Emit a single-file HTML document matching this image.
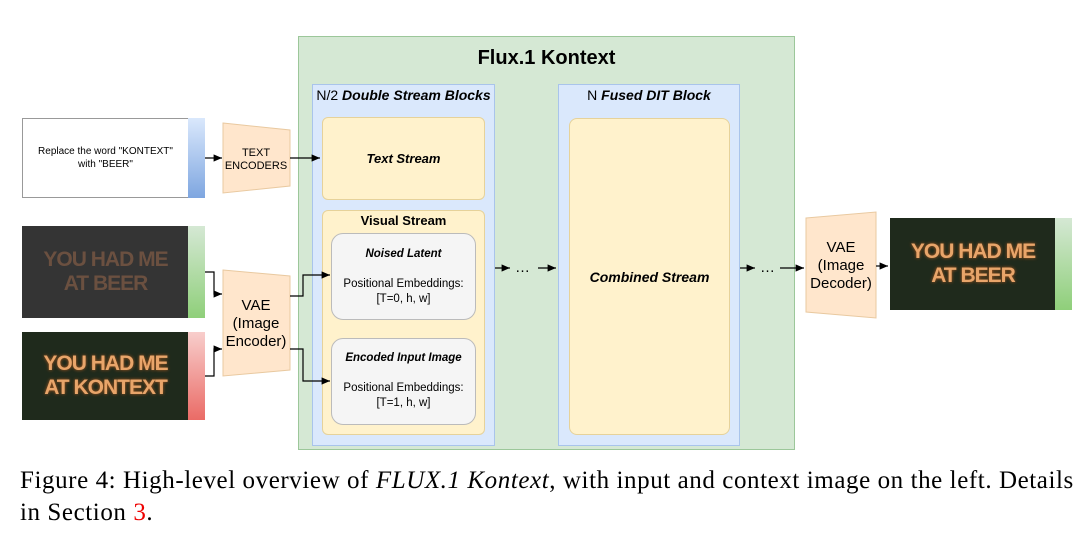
<!DOCTYPE html>
<html><head><meta charset="utf-8"><style>
body{margin:0;width:1087px;height:533px;background:#fff;position:relative;overflow:hidden;font-family:"Liberation Sans",sans-serif}
.a{position:absolute;box-sizing:border-box}
.c{display:flex;align-items:center;justify-content:center;text-align:center}
.img{background:#1f2a1c;color:#e8a56a;font-weight:bold;font-size:21px;line-height:24px;letter-spacing:-1px;text-shadow:0 0 3px #b05a20}
</style></head><body>
<div class="a" style="left:298px;top:36px;width:497px;height:414px;background:#d5e8d4;border:1px solid #9cc79a"></div>
<div class="a c" style="left:298px;top:44px;width:497px;height:28px;font-size:20px;font-weight:bold">Flux.1 Kontext</div>
<div class="a" style="left:312px;top:84px;width:183px;height:362px;background:#dae8fc;border:1px solid #a9c4eb"></div>
<div class="a c" style="left:312px;top:86px;width:183px;height:18px;font-size:14px">N/2&nbsp;<b><i>Double Stream Blocks</i></b></div>
<div class="a c" style="left:322px;top:117px;width:163px;height:83px;background:#fff2cc;border:1px solid #e6d29a;border-radius:6px;font-size:13px;font-weight:bold;font-style:italic">Text Stream</div>
<div class="a" style="left:322px;top:210px;width:163px;height:225px;background:#fff2cc;border:1px solid #e6d29a;border-radius:6px"></div>
<div class="a c" style="left:322px;top:212px;width:163px;height:17px;font-size:13px;font-weight:bold">Visual Stream</div>
<div class="a" style="left:331px;top:233px;width:145px;height:87px;background:#f5f5f5;border:1px solid #bbb;border-radius:12px;font-size:11.5px;text-align:center;padding-top:13px;line-height:15px"><b><i>Noised Latent</i></b><br><br>Positional Embeddings:<br>[T=0, h, w]</div>
<div class="a" style="left:331px;top:338px;width:145px;height:87px;background:#f5f5f5;border:1px solid #bbb;border-radius:12px;font-size:11.5px;text-align:center;padding-top:12px;line-height:15px"><b><i>Encoded Input Image</i></b><br><br>Positional Embeddings:<br>[T=1, h, w]</div>
<div class="a" style="left:558px;top:84px;width:182px;height:362px;background:#dae8fc;border:1px solid #a9c4eb"></div>
<div class="a c" style="left:558px;top:86px;width:182px;height:18px;font-size:14px">N&nbsp;<b><i>Fused DIT Block</i></b></div>
<div class="a c" style="left:569px;top:118px;width:161px;height:317px;background:#fff2cc;border:1px solid #e6d29a;border-radius:8px;font-size:14px;font-weight:bold;font-style:italic">Combined Stream</div>
<div class="a c" style="left:22px;top:118px;width:167px;height:80px;border:1px solid #999;font-size:10px;line-height:13px">Replace the word "KONTEXT"<br>with "BEER"</div>
<div class="a" style="left:188px;top:118px;width:17px;height:80px;background:linear-gradient(#dae8fc,#7ea6e0)"></div>
<div class="a c img" style="left:22px;top:226px;width:167px;height:92px;background:#343434;color:#6b5040;text-shadow:none">YOU HAD ME<br>AT BEER</div>
<div class="a" style="left:188px;top:226px;width:17px;height:92px;background:linear-gradient(#d5e8d4,#8fcf7a)"></div>
<div class="a c img" style="left:22px;top:332px;width:167px;height:88px">YOU HAD ME<br>AT KONTEXT</div>
<div class="a" style="left:188px;top:332px;width:17px;height:88px;background:linear-gradient(#f8cecc,#ea6b66)"></div>
<div class="a c img" style="left:890px;top:218px;width:166px;height:92px">YOU HAD ME<br>AT BEER</div>
<div class="a" style="left:1055px;top:218px;width:17px;height:92px;background:linear-gradient(#d5e8d4,#8fcf7a)"></div>
<svg class="a" style="left:0;top:0" width="1087" height="533">
<defs><marker id="m" markerWidth="8" markerHeight="8" refX="7" refY="4" orient="auto"><path d="M0,1 L7,4 L0,7z" fill="#000"/></marker></defs>
<g fill="#ffe6cc" stroke="#e9c9a0">
<path d="M223,123 L290,130 L290,186 L223,193z"/>
<path d="M223,270 L290,276 L290,370 L223,376z"/>
<path d="M806,218 L876,212 L876,318 L806,312z"/>
</g>
<g font-size="11" text-anchor="middle" font-family="Liberation Sans">
<text x="256" y="156">TEXT</text><text x="256" y="169">ENCODERS</text></g>
<g font-size="15" text-anchor="middle" font-family="Liberation Sans">
<text x="256" y="310">VAE</text><text x="256" y="328">(Image</text><text x="256" y="346">Encoder)</text>
<text x="841" y="252">VAE</text><text x="841" y="270">(Image</text><text x="841" y="288">Decoder)</text></g>
<g stroke="#000" stroke-width="1.2" fill="none" marker-end="url(#m)">
<path d="M205,158 H222"/><path d="M290,158 H320"/>
<path d="M205,272 H214 V294 H222"/><path d="M205,376 H214 V349 H222"/>
<path d="M290,296 H303 V275 H330"/><path d="M290,349 H303 V381 H330"/>
<path d="M495,268 H510"/><path d="M538,268 H556"/>
<path d="M740,268 H755"/><path d="M780,268 H804"/>
<path d="M876,266 H888"/>
</g>
<g font-size="15" font-family="Liberation Sans"><text x="515" y="272">…</text><text x="760" y="272">…</text></g>
</svg>
<div class="a" style="left:20px;top:465px;font-family:'Liberation Serif',serif;font-size:25px;letter-spacing:0.58px;line-height:32px;width:1075px;white-space:nowrap">Figure 4: High-level overview of <i>FLUX.1 Kontext</i>, with input and context image on the left. Details<br>in Section <span style="color:#e00">3</span>.</div>
</body></html>
